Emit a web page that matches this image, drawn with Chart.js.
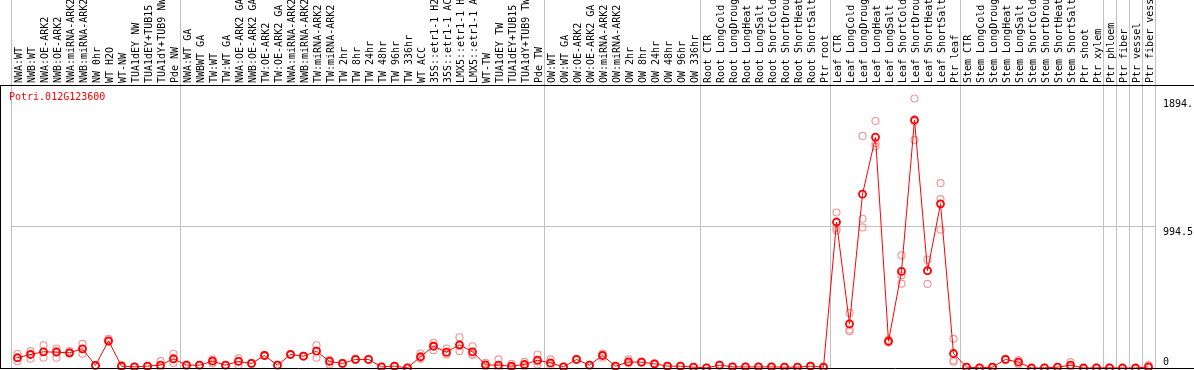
<!DOCTYPE html>
<html>
<head>
<meta charset="utf-8">
<script src="https://cdn.jsdelivr.net/npm/chart.js@4/dist/chart.umd.min.js"></script>
<style>
  html, body { margin: 0; padding: 0; background: #fff; }
  canvas { display: block; }
</style>
</head>
<body>
<canvas id="myChart" width="1194" height="370"></canvas>
<script>
const geneName = 'Potri.012G123600';

const categories = [
  'NWA:WT', 'NWB:WT', 'NWA:OE-ARK2', 'NWB:OE-ARK2', 'NWA:miRNA-ARK2', 'NWB:miRNA-ARK2',
  'NW 0hr', 'WT H2O', 'WT-NW', 'TUA1dEY NW', 'TUA1dEY+TUB15', 'TUA1dY+TUB9 NW', 'Pde NW',
  'NWA:WT GA', 'NWBWT GA', 'TW:WT', 'TW:WT GA', 'NWA:OE-ARK2 GA', 'NWB:OE-ARK2 GA',
  'TW:OE-ARK2', 'TW:OE-ARK2 GA', 'NWA:miRNA-ARK2', 'NWB:miRNA-ARK2', 'TW:miRNA-ARK2',
  'TW:miRNA-ARK2', 'TW 2hr', 'TW 8hr', 'TW 24hr', 'TW 48hr', 'TW 96hr', 'TW 336hr',
  'WT ACC', '35S::etr1-1 H2', '35S::etr1-1 AC', 'LMX5::etr1-1 H', 'LMX5::etr1-1 A',
  'WT-TW', 'TUA1dEY TW', 'TUA1dEY+TUB15', 'TUA1dY+TUB9 TW', 'Pde TW',
  'OW:WT', 'OW:WT GA', 'OW:OE-ARK2', 'OW:OE-ARK2 GA', 'OW:miRNA-ARK2', 'OW:miRNA-ARK2',
  'OW 2hr', 'OW 8hr', 'OW 24hr', 'OW 48hr', 'OW 96hr', 'OW 336hr',
  'Root CTR', 'Root LongCold', 'Root LongDroug', 'Root LongHeat', 'Root LongSalt',
  'Root ShortCold', 'Root ShortDrou', 'Root ShortHeat', 'Root ShortSalt', 'Ptr root',
  'Leaf CTR', 'Leaf LongCold', 'Leaf LongDroug', 'Leaf LongHeat', 'Leaf LongSalt',
  'Leaf ShortCold', 'Leaf ShortDrou', 'Leaf ShortHeat', 'Leaf ShortSalt', 'Ptr leaf',
  'Stem CTR', 'Stem LongCold', 'Stem LongDroug', 'Stem LongHeat', 'Stem LongSalt',
  'Stem ShortCold', 'Stem ShortDrou', 'Stem ShortHeat', 'Stem ShortSalt', 'Ptr shoot',
  'Ptr xylem', 'Ptr phloem', 'Ptr fiber', 'Ptr vessel', 'Ptr fiber vess'
];

// first category of each sample group (a separator is drawn before it)
const groupStarts = [0, 13, 41, 53, 63, 73, 84, 85, 86, 87];

const meanValues = [
  72, 95, 114, 111, 107, 135, 18, 191, 13, 8, 13, 20, 65,
  20, 20, 48, 20, 46, 32, 88, 20, 95, 83, 118, 46, 32, 60, 60, 8, 13, 1, 79, 153, 111, 163, 114, 22, 20, 13, 25, 55,
  36, 8, 60, 20, 88, 13, 43, 41, 29, 13, 13, 6,
  1, 20, 8, 8, 8, 8, 6, 6, 13, 6,
  1026, 310, 1222, 1622, 188, 679, 1743, 684, 1154, 102,
  6, 1, 6, 60, 41, 0, 1, 6, 20, 0, 1,
  1, 0, 0, 8
];

const rep1 = [
  100, 118, 160, 137, 118, 170, 20, 205, 20, 10, 15, 48, 100,
  25, 22, 60, 22, 67, 36, 92, 22, 98, 86, 160, 58, 36, 64, 62, 10, 15, 2, 102, 177, 137, 216, 153, 36, 60, 29, 43, 95,
  60, 10, 64, 22, 102, 15, 60, 45, 32, 15, 15, 8,
  2, 24, 10, 10, 10, 10, 8, 8, 15, 8,
  1093, 387, 1631, 1736, 200, 791, 1894, 761, 1299, 205,
  8, 2, 8, 64, 55, 1, 2, 8, 41, 1, 2,
  2, 1, 1, 20
];

const rep2 = [
  72, 95, 114, 120, 107, 135, 18, 191, 13, 8, 13, 7, 60,
  20, 20, 52, 20, 50, 32, 88, 20, 95, 83, 122, 55, 32, 60, 60, 8, 13, 1, 70, 157, 101, 155, 94, 18, 2, 6, 20, 45,
  30, 8, 60, 20, 90, 13, 36, 41, 29, 13, 13, 6,
  1, 20, 8, 8, 8, 8, 6, 6, 13, 6,
  984, 270, 1049, 1580, 184, 651, 1732, 681, 1187, 53,
  6, 1, 6, 60, 41, 0, 1, 6, 12, 0, 1,
  1, 0, 0, 3
];

const rep3 = [
  48, 65, 72, 72, 100, 100, 16, 181, 7, 6, 11, 5, 36,
  15, 18, 32, 18, 20, 28, 84, 18, 92, 80, 72, 25, 28, 56, 58, 6, 11, 0, 65, 125, 95, 118, 95, 12, 0, 4, 12, 25,
  18, 6, 56, 18, 72, 11, 33, 37, 26, 11, 11, 4,
  0, 16, 6, 6, 6, 6, 4, 4, 11, 4,
  967, 258, 988, 1556, 179, 593, 1603, 591, 972, 44,
  4, 0, 4, 56, 25, 0, 0, 4, 8, 0, 0,
  0, 0, 0, 1
];

const yMax = 1989;
const yTickValues = [0, 994.5, 1894];
const yTickLabels = ['0', '994.5', '1894.'];

const monoFont = { family: 'DejaVu Sans Mono', size: 10 };
const sepColor = '#c0c0c0';
const clear = 'rgba(0,0,0,0)';

// black frame + gene name in the top left corner of the plot
const framePlugin = {
  id: 'frame',
  afterDraw(chart) {
    const { ctx, chartArea } = chart;
    ctx.save();
    ctx.strokeStyle = '#000';
    ctx.lineWidth = 1;
    ctx.beginPath();
    ctx.moveTo(0, chartArea.top + 0.5);
    ctx.lineTo(chart.width, chartArea.top + 0.5);
    ctx.moveTo(0, chartArea.bottom + 0.5);
    ctx.lineTo(chart.width, chartArea.bottom + 0.5);
    ctx.moveTo(0.5, chartArea.top);
    ctx.lineTo(0.5, chartArea.bottom);
    ctx.stroke();
    ctx.fillStyle = '#ff0000';
    ctx.font = '10px "DejaVu Sans Mono"';
    ctx.textBaseline = 'middle';
    ctx.textAlign = 'left';
    ctx.fillText(chart.data.datasets[0].label, 9, chartArea.top + 12);
    ctx.restore();
  }
};

const repDatasets = [rep1, rep2, rep3].map((r, k) => ({
  label: 'replicate ' + (k + 1),
  data: r,
  showLine: false,
  pointRadius: 3.5,
  pointBorderWidth: 1.2,
  pointBorderColor: '#f09a9a',
  pointBackgroundColor: clear,
  borderColor: '#f09a9a',
  clip: false,
  order: 2
}));

new Chart(document.getElementById('myChart').getContext('2d'), {
  type: 'line',
  data: {
    labels: categories,
    datasets: [
      {
        label: geneName,
        data: meanValues,
        borderColor: '#ff0000',
        borderWidth: 1,
        pointRadius: 3.5,
        pointBorderWidth: 1.8,
        pointBorderColor: '#ff0000',
        pointBackgroundColor: clear,
        tension: 0,
        clip: false,
        order: 0
      },
      ...repDatasets
    ]
  },
  options: {
    responsive: false,
    animation: false,
    layout: { autoPadding: false, padding: { left: 11, right: 0, top: 0, bottom: 2 } },
    plugins: {
      legend: { display: false },
      tooltip: { enabled: false }
    },
    scales: {
      x: {
        type: 'category',
        position: 'top',
        offset: true,
        grid: {
          offset: true,
          drawTicks: true,
          tickLength: 85,
          lineWidth: 1,
          color: ctx => (ctx.index === undefined || groupStarts.includes(ctx.index)) ? sepColor : clear
        },
        border: { display: false },
        ticks: {
          autoSkip: false,
          minRotation: 90,
          maxRotation: 90,
          padding: -83,
          labelOffset: 14,
          color: '#000',
          font: monoFont
        },
        afterFit(scale) {
          scale.height = 85;
          scale.paddingLeft = 0;
          scale.paddingRight = 0;
        }
      },
      y: {
        position: 'right',
        min: 0,
        max: yMax,
        afterBuildTicks(scale) {
          scale.ticks = yTickValues.map(v => ({ value: v }));
        },
        grid: {
          drawTicks: false,
          color: ctx => (ctx.tick && ctx.tick.value === 994.5) ? sepColor : clear
        },
        border: { display: false },
        ticks: {
          padding: 8,
          color: '#000',
          font: monoFont,
          callback: (v) => {
            const label = yTickLabels[yTickValues.indexOf(v)];
            return v === 0 ? [label, ''] : ['', label];
          }
        },
        afterFit(scale) {
          scale.width = 39;
          scale.paddingTop = 0;
          scale.paddingBottom = 0;
        }
      }
    }
  },
  plugins: [framePlugin]
});
</script>
</body>
</html>
